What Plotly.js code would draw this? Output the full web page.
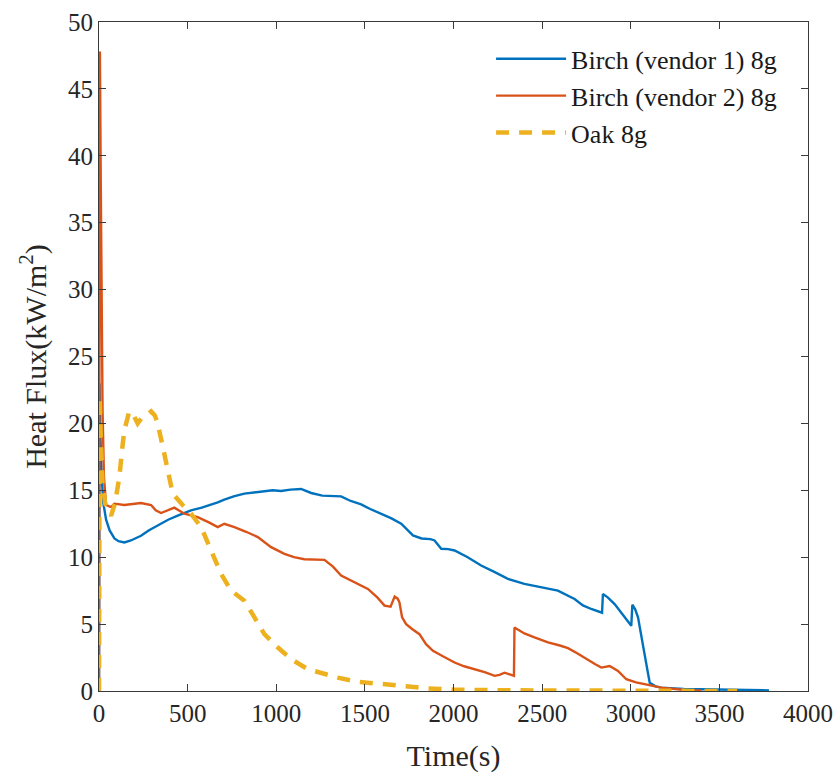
<!DOCTYPE html>
<html>
<head>
<meta charset="utf-8">
<script src="https://cdn.plot.ly/plotly-3.0.1.min.js"></script>
<style>html,body{margin:0;padding:0;background:#fff;}#chart{width:840px;height:778px;}</style>
</head>
<body>
<div id="chart"></div>
<script>
// Birch (vendor 1) 8g
const birch1X = [0,3,8,15,25,40,60,87,110,143,180,237,280,331,390,444,519,580,632,670,707,760,820,880,933,980,1027,1080,1140,1197,1260,1300,1366,1420,1479,1530,1592,1650,1705,1740,1771,1820,1870,1893,1931,1970,2006,2080,2156,2230,2307,2400,2495,2589,2683,2730,2777,2838,2843,2870,2909,2950,3003,3009,3025,3041,3060,3078,3095,3107,3140,3172,3300,3492,3600,3780];
const birch1Y = [0,23,19,16,14,12.8,12,11.4,11.2,11.1,11.25,11.6,12.0,12.4,12.8,13.1,13.5,13.7,13.9,14.1,14.3,14.55,14.75,14.85,14.9,15.0,14.95,15.05,15.1,14.8,14.6,14.6,14.55,14.2,13.95,13.6,13.25,12.9,12.5,12.0,11.63,11.4,11.35,11.25,10.63,10.6,10.5,10.0,9.38,8.9,8.38,8.0,7.75,7.5,6.88,6.4,6.13,5.85,7.25,7.0,6.5,5.8,4.87,6.45,6.1,5.5,4.2,2.75,1.5,0.62,0.35,0.25,0.15,0.12,0.08,0.05];

// Birch (vendor 2) 8g
const birch2X = [0,5,10,15,20,28,40,68,87,143,190,237,294,320,350,390,425,482,557,620,670,707,764,830,896,971,1046,1100,1159,1272,1320,1366,1423,1517,1570,1611,1645,1668,1685,1695,1710,1733,1770,1808,1845,1884,1940,2006,2060,2119,2180,2232,2260,2288,2320,2341,2344,2400,2457,2533,2600,2646,2700,2759,2800,2834,2881,2928,2975,3030,3078,3172,3304,3400];
const birch2Y = [0,47.8,38,28,21,16,13.9,13.75,14.0,13.9,14.0,14.05,13.9,13.5,13.3,13.5,13.7,13.25,13.0,12.6,12.25,12.5,12.25,11.9,11.5,10.75,10.25,10.0,9.85,9.8,9.3,8.63,8.25,7.63,7.0,6.38,6.3,7.05,6.9,6.63,5.5,5.0,4.6,4.25,3.5,3.0,2.6,2.13,1.85,1.63,1.4,1.13,1.2,1.37,1.25,1.13,4.75,4.3,4.0,3.63,3.4,3.2,2.8,2.3,2.0,1.75,1.87,1.5,0.88,0.65,0.5,0.25,0.07,0.02];

// Oak 8g
const oakX = [0,4,10,20,35,50,68,90,115,130,143,171,195,218,240,256,294,315,331,360,388,416,472,519,576,632,689,745,790,820,877,933,1009,1084,1178,1272,1347,1450,1550,1700,1850,2000,2300,2800,3300,3600];
const oakY = [0,22,19,15.5,14,13.5,13.1,14,16,18,19.5,20.9,20.6,20.0,20.4,20.5,20.9,20.6,20.0,18.25,16.5,14.75,13.9,13.25,12.25,10.5,8.75,7.5,7.1,6.75,5.5,4.25,3.25,2.38,1.63,1.25,1.0,0.7,0.55,0.4,0.2,0.1,0.05,0.03,0.01,0];

const seriesNames = ["Birch (vendor 1) 8g", "Birch (vendor 2) 8g", "Oak 8g"];
const xTicks = [0,500,1000,1500,2000,2500,3000,3500,4000];
const yTicks = [0,5,10,15,20,25,30,35,40,45,50];

const FONT = "Liberation Serif";
const traces = [
  {x: birch1X, y: birch1Y, name: seriesNames[0], mode: "lines", line: {color: "#0072BD", width: 2.4}},
  {x: birch2X, y: birch2Y, name: seriesNames[1], mode: "lines", line: {color: "#D95319", width: 2.4}},
  {x: oakX, y: oakY, name: seriesNames[2], mode: "lines", line: {color: "#EDB120", width: 4.5, dash: "13px,10px"}}
];

const axisCommon = {
  showline: true, linecolor: "#3a3a3a", linewidth: 1, mirror: "ticks",
  ticks: "inside", ticklen: 7, tickwidth: 1, tickcolor: "#3a3a3a",
  showgrid: false, zeroline: false,
  tickfont: {family: FONT, size: 25, color: "#262626"}
};

const layout = {
  width: 840, height: 778,
  margin: {l: 99, r: 32, t: 22, b: 87},
  paper_bgcolor: "#fff", plot_bgcolor: "#fff",
  font: {family: FONT, color: "#262626"},
  showlegend: true,
  legend: {x: 0.553, y: 0.98, xanchor: "left", yanchor: "top",
    font: {family: FONT, size: 26, color: "#1a1a1a"},
    bgcolor: "rgba(0,0,0,0)", borderwidth: 0, tracegroupgap: 0, itemwidth: 70},
  xaxis: Object.assign({}, axisCommon, {
    range: [0, 4000], tickvals: xTicks, ticktext: xTicks.map(String),
    title: {text: "Time(s)", font: {family: FONT, size: 30, color: "#262626"}, standoff: 18}
  }),
  yaxis: Object.assign({}, axisCommon, {
    range: [0, 50], tickvals: yTicks, ticktext: yTicks.map(String),
    title: {text: "Heat Flux(kW/m<sup>2</sup>)", font: {family: FONT, size: 30, color: "#262626"}, standoff: 12}
  })
};

Plotly.newPlot("chart", traces, layout, {displayModeBar: false, staticPlot: true});
</script>
</body>
</html>
